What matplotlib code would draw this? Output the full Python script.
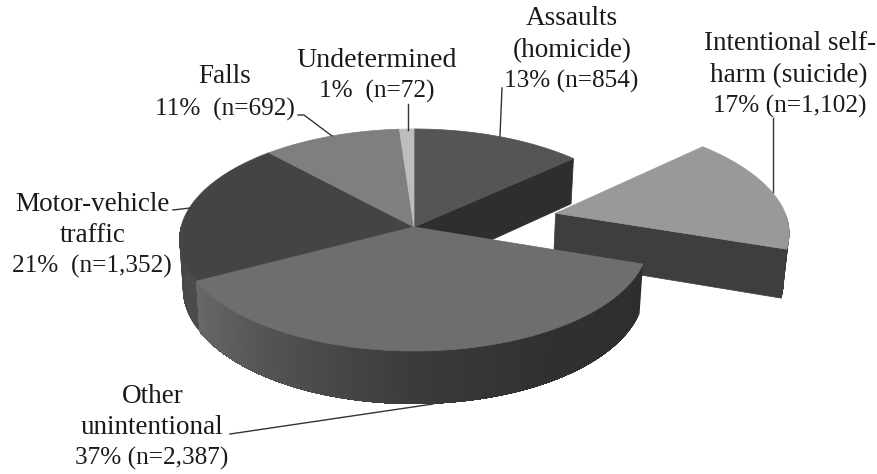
"""3D exploded pie of injury deaths, drawn with a hand-made perspective."""

import numpy as np
import matplotlib.pyplot as plt
from matplotlib.patches import Polygon

plt.switch_backend("Agg")

# clockwise from 12 o'clock
categories = ["Assaults", "Self-harm", "Other unintentional", "Motor-vehicle", "Falls", "Undetermined"]
counts = [854, 1102, 2387, 1352, 692, 72]
top_colors = ["#555555", "#999999", "#6e6e6e", "#444444", "#7f7f7f", "#bdbdbd"]

# perspective of the pie plane, in pixels
CX, CY = 414.0, 227.0
RAD_X, RAD_Y = 233.0, 109.5
PERSP = 0.117
EXPLODE = 0.63


def project(u, v):
    d = 1 + PERSP * v
    return CX + RAD_X * u / d, CY - RAD_Y * v / d


def drop(x, y):
    # top-face pixel -> matching pixel on the bottom face
    return CX + (x - CX) * 0.985, y + 48 + 0.04 * (y - CY)


def slice_top(t0, t1, du=0.0, dv=0.0, n=80):
    t = np.linspace(t0, t1, n)
    x, y = project(np.sin(t) + du, np.cos(t) + dv)
    ax_, ay_ = project(np.array([du]), np.array([dv]))
    return np.r_[ax_, x], np.r_[ay_, y]


def wall(ax, t0, t1, stops, shades, du=0.0, dv=0.0, n=120):
    # outer rim as strips, each one runs on under the next so no seams show
    t = np.linspace(t0, t1, n + 1)
    x, y = project(np.sin(t) + du, np.cos(t) + dv)
    bx, by = drop(x, y)
    for i in range(n):
        g = np.interp(i / (n - 1), stops, shades)
        j = n + 1
        pts = np.r_[np.c_[x[i:j], y[i:j]], np.c_[bx[i:j], by[i:j]][::-1]]
        ax.add_patch(Polygon(pts, closed=True, fc=(g, g, g), ec="none"))


def radial_face(ax, t, color, du=0.0, dv=0.0):
    x0, y0 = project(np.array([du]), np.array([dv]))
    x1, y1 = project(np.array([np.sin(t) + du]), np.array([np.cos(t) + dv]))
    bx0, by0 = drop(x0, y0)
    bx1, by1 = drop(x1, y1)
    pts = [(x0[0], y0[0]), (x1[0], y1[0]), (bx1[0], by1[0]), (bx0[0], by0[0])]
    ax.add_patch(Polygon(pts, closed=True, fc=color, ec=color, lw=0.5))


def top_face(ax, t0, t1, color, du=0.0, dv=0.0):
    x, y = slice_top(t0, t1, du, dv)
    ax.add_patch(Polygon(np.c_[x, y], closed=True, fc=color, ec=color, lw=0.5))


fig = plt.figure(figsize=(8.78, 4.74), dpi=100)
ax = fig.add_axes([0, 0, 1, 1])
ax.set_xlim(0, 878)
ax.set_ylim(474, 0)
ax.set_axis_off()

edges = np.r_[0, np.cumsum(counts)] / sum(counts) * 2 * np.pi
mid = (edges[1] + edges[2]) / 2
du, dv = EXPLODE * np.sin(mid), EXPLODE * np.cos(mid)

# exploded slice goes first, the main pie covers its inner end
wall(ax, np.pi / 2, edges[2], [0, 1], [0.24, 0.24], du, dv, n=20)
radial_face(ax, edges[2], "#3e3e3e", du, dv)
top_face(ax, edges[1], edges[2], top_colors[1], du, dv)

radial_face(ax, edges[1], "#2e2e2e")
wall(ax, edges[3], 1.5 * np.pi, [0, 1], [0.30, 0.27], n=30)
wall(ax, edges[2], edges[3], [0, 0.3, 0.53, 0.75, 1], [0.18, 0.19, 0.23, 0.31, 0.41])

for i in [0, 3, 4, 5, 2]:
    top_face(ax, edges[i], edges[i + 1], top_colors[i])

# the source face has wider letters and narrower figures than Liberation Serif
font = dict(family="Liberation Serif", fontsize=19.5, color="#1a1a1a", ha="center", va="baseline")
nums = dict(font, fontsize=18.2)
ax.text(572, 25, "Assaults", **font)
ax.text(572, 57, "(homicide)", **font)
ax.text(571, 88, "13% (n=854)", **nums)
ax.text(790, 50, "Intentional self-", **font)
ax.text(789, 82, "harm (suicide)", **font)
ax.text(790, 113, "17% (n=1,102)", **nums)
ax.text(377, 67, "Undetermined", **dict(font, fontsize=20.2))
ax.text(377, 98, "1%  (n=72)", **nums)
ax.text(225, 83, "Falls", **font)
ax.text(225, 116, "11%  (n=692)", **nums)
ax.text(92, 211, "Motor-vehicle", **font)
ax.text(93, 242, "traffic", **font)
ax.text(92, 273, "21%  (n=1,352)", **nums)
ax.text(153, 403, "Other", **font)
ax.text(152, 434, "unintentional", **font)
ax.text(152, 465, "37% (n=2,387)", **nums)

line = dict(color="#333333", lw=1.0)
ax.plot([408, 408], [104, 130], **line)
ax.plot([298, 304, 332], [115, 115, 136], **line)
ax.plot([502, 500], [88, 136], **line)
ax.plot([773, 773], [118, 192], **line)
ax.plot([173, 190], [210, 208], **line)
ax.plot([230, 433], [434, 404], **line)

fig.savefig("out.png", dpi=100)
